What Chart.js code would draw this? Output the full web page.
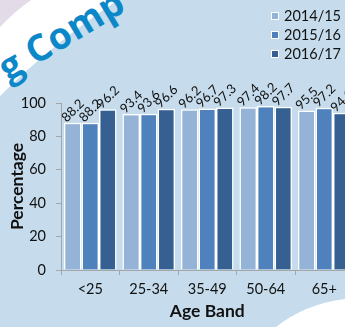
<!DOCTYPE html>
<html>
<head>
<meta charset="utf-8">
<script src="https://cdn.jsdelivr.net/npm/chart.js@4.4.0/dist/chart.umd.min.js"></script>
<style>
  html, body { margin: 0; padding: 0; width: 345px; height: 327px; overflow: hidden; background: #c6dcec; font-family: Lato, sans-serif; }
  #bg { position: absolute; left: 0; top: 0; }
  #wrap { position: absolute; left: 0; top: 0; width: 360px; height: 327px; }
  #legend { position: absolute; left: 271px; top: 6px; }
  .item { display: flex; align-items: center; height: 19px; font-size: 14.5px; color: #111; }
  .swatch { width: 6px; height: 6px; border: 1.5px solid #fff; margin-right: 5px; }
</style>
</head>
<body>
<svg id="bg" width="345" height="327">
  <path d="M0,0 L31,0 Q14,12 0,27 Z" fill="#e4dbe9"/>
  <path d="M31,0 L118,0 Q52,44 0,96 L0,27 Q14,12 31,0 Z" fill="#fff"/>
  <text x="8" y="82" transform="rotate(-31 8 82)" font-family="Open Sans" font-weight="700" font-size="37" letter-spacing="0.5" fill="#0c88c9">g Comp</text>
  <path d="M276,327 Q305,304 345,299 L345,327 Z" fill="#fff"/>
</svg>
<div id="wrap"><canvas id="chart"></canvas></div>
<div id="legend"></div>
<script>
// Data
const ageBands = ['<25', '25-34', '35-49', '50-64', '65+'];
const years = ['2014/15', '2015/16', '2016/17'];
const pct1415 = [88.2, 93.4, 96.2, 97.4, 95.5];
const pct1516 = [88.2, 93.6, 96.7, 98.2, 97.2];
const pct1617 = [96.2, 96.6, 97.3, 97.7, 94.1];
const yTicks = [0, 20, 40, 60, 80, 100];

const colours = ['#95b3d7', '#4f81bd', '#376092'];
const series = [pct1415, pct1516, pct1617];

// rotated value labels above each bar
const barLabels = {
  id: 'barLabels',
  afterDatasetsDraw(chart) {
    const ctx = chart.ctx;
    ctx.save();
    ctx.font = '13px Lato';
    ctx.fillStyle = '#111';
    ctx.textAlign = 'left';
    ctx.textBaseline = 'alphabetic';
    chart.data.datasets.forEach((ds, i) => {
      chart.getDatasetMeta(i).data.forEach((bar, j) => {
        ctx.save();
        ctx.translate(bar.x - 6, bar.y);
        ctx.rotate(-Math.PI / 4);
        ctx.fillText(ds.data[j].toFixed(1), 0, 0);
        ctx.restore();
      });
    });
    ctx.restore();
  }
};

const axisGrey = '#a6a6a6';
const tickFont = { family: 'Lato', size: 14.5 };
const titleFont = { family: 'Lato', size: 17.5, weight: 'bold' };

new Chart(document.getElementById('chart'), {
  type: 'bar',
  data: {
    labels: ageBands,
    datasets: years.map((y, i) => ({
      label: y,
      data: series[i],
      backgroundColor: colours[i],
      borderColor: '#ffffff',
      borderWidth: 1.5,
      categoryPercentage: 0.9,
      barPercentage: 1
    }))
  },
  options: {
    responsive: true,
    maintainAspectRatio: false,
    animation: false,
    layout: { padding: { top: 103, right: 6.5, left: 0, bottom: 0 } },
    plugins: {
      legend: { display: false },
      tooltip: { enabled: false }
    },
    scales: {
      x: {
        grid: { offset: true, drawOnChartArea: false, tickLength: 5, color: axisGrey },
        border: { color: axisGrey },
        ticks: { color: '#111', font: tickFont, padding: 6, maxRotation: 0 },
        title: { display: true, text: 'Age Band', color: '#111', font: titleFont, padding: { top: 0, bottom: 5.5 } },
        afterFit(scale) { scale.height = 57; }
      },
      y: {
        min: 0,
        max: 100,
        afterBuildTicks(scale) { scale.ticks = yTicks.map(v => ({ value: v })); },
        grid: { drawOnChartArea: false, tickLength: 5, color: axisGrey },
        border: { color: axisGrey },
        ticks: { color: '#111', font: tickFont, padding: 10 },
        title: { display: true, text: 'Percentage', color: '#111', font: titleFont, padding: { top: 6.5, bottom: 0 } },
        afterFit(scale) { scale.width = 61; }
      }
    }
  },
  plugins: [barLabels]
});

// legend built from the same series names
const legend = document.getElementById('legend');
years.forEach((y, i) => {
  const item = document.createElement('div');
  item.className = 'item';
  const sw = document.createElement('span');
  sw.className = 'swatch';
  sw.style.background = colours[i];
  item.appendChild(sw);
  item.appendChild(document.createTextNode(y));
  legend.appendChild(item);
});
</script>
</body>
</html>
